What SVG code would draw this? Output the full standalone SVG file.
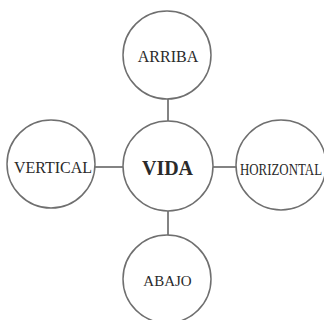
<svg xmlns="http://www.w3.org/2000/svg" width="324" height="320" viewBox="0 0 324 320">
<style>
.n{fill:#fff;stroke:#6f6f6f;stroke-width:1.5}
.c{stroke:#5a5a5a;stroke-width:1.5;fill:none}
.t{font-family:"Liberation Serif","DejaVu Serif",serif;font-size:16px;fill:#2a2a2a;text-anchor:middle}
</style>
<rect width="324" height="320" fill="#fff"/>
<g id="connectors">
<line class="c" x1="168" y1="99" x2="168" y2="121"/>
<line class="c" x1="95" y1="167" x2="123" y2="167"/>
<line class="c" x1="213" y1="167" x2="236" y2="167"/>
<line class="c" x1="168" y1="211" x2="168" y2="235"/>
</g>
<g id="arriba"><circle class="n" cx="167" cy="55" r="44"/><text class="t" x="168" y="62">ARRIBA</text></g>
<g id="vertical"><circle class="n" cx="51" cy="164" r="44"/><text class="t" x="53" y="173">VERTICAL</text></g>
<g id="horizontal"><circle class="n" cx="281" cy="165" r="45"/><text class="t" x="240" y="175" style="text-anchor:start" textLength="82" lengthAdjust="spacingAndGlyphs">HORIZONTAL</text></g>
<g id="abajo"><circle class="n" cx="167" cy="279" r="44"/><text class="t" x="167.5" y="286" style="font-size:15px">ABAJO</text></g>
<g id="vida"><circle class="n" cx="168" cy="166" r="45"/><text class="t" x="167.5" y="175" style="font-size:20px;font-weight:bold">VIDA</text></g>
</svg>
